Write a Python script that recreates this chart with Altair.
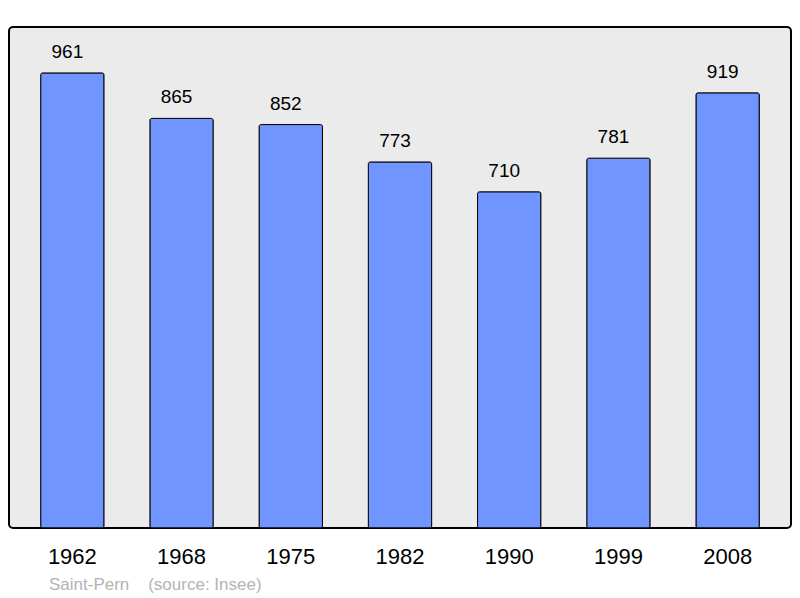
import altair as alt
import pandas as pd

years = ["1962", "1968", "1975", "1982", "1990", "1999", "2008"]
population = [961, 865, 852, 773, 710, 781, 919]
footer = "Saint-Pern\u00a0\u00a0\u00a0 (source: Insee)"

df = pd.DataFrame({"year": years, "pop": population})

FONT = "Liberation Sans"

x = alt.X(
    "year:N",
    sort=None,
    scale=alt.Scale(paddingInner=0.42, paddingOuter=0.29),
    axis=alt.Axis(
        title=None,
        labelAngle=0,
        labelFontSize=22,
        labelColor="black",
        labelFont=FONT,
        ticks=False,
        tickSize=0,
        domain=False,
        grid=False,
        labelPadding=35,
        labelBaseline="alphabetic",
    ),
)
y = alt.Y("pop:Q", scale=alt.Scale(domain=[0, 1058], nice=False, zero=True), axis=None)

bars = alt.Chart(df).mark_bar(
    color="#7095ff", stroke="black", strokeWidth=1, cornerRadius=2
).encode(x=x, y=y)

labels = alt.Chart(df).mark_text(
    baseline="alphabetic", dy=-15, dx=-5, fontSize=19, font=FONT, color="black"
).encode(x=x, y=y, text="pop:Q")

chart = (
    (bars + labels)
    .properties(
        width=782,
        height=501,
        autosize="none",
        padding={"left": 1, "top": 19, "right": 1, "bottom": 72},
        background="white",
        title=alt.TitleParams(
            text=footer,
            orient="bottom",
            anchor="start",
            frame="group",
            fontSize=17,
            fontWeight="normal",
            font=FONT,
            color="#b3b3b3",
            dx=40,
            offset=23,
            baseline="alphabetic",
        ),
    )
    .configure_view(fill="#ebebeb", stroke="black", strokeWidth=2, cornerRadius=4)
)

chart.save("out.html", embed_options={"renderer": "svg", "actions": False})
